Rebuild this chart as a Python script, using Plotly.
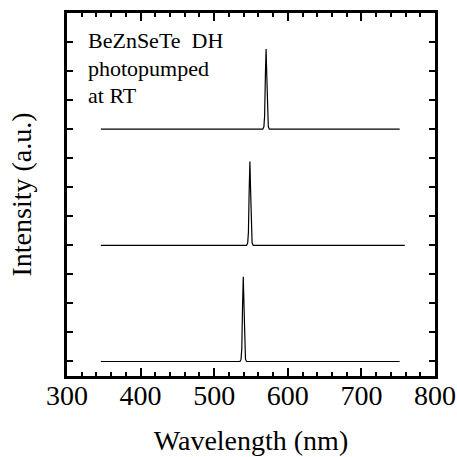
import plotly.graph_objects as go

# Spectra (wavelength nm, intensity a.u.), stacked with vertical offsets
wl_a = [346, 535, 536.5, 537.5, 538.5, 539.5, 540.5, 541.5, 542.5, 544, 752]
int_a = [0, 0, 0.08, 0.45, 1.9, 2.92, 1.9, 0.45, 0.08, 0, 0]

wl_b = [346, 544, 545.5, 546.5, 547.5, 548.5, 549.5, 550.5, 551.5, 553, 759]
int_b = [0, 0, 0.08, 0.45, 1.85, 2.89, 1.85, 0.45, 0.08, 0, 0]

wl_c = [346, 566, 567.5, 568.5, 569.5, 570.5, 571.5, 572.5, 573.5, 575, 752]
int_c = [0, 0, 0.08, 0.45, 1.8, 2.76, 1.8, 0.45, 0.08, 0, 0]

offsets = [0, 4, 8]

label_lines = ["BeZnSeTe&nbsp;&nbsp;DH", "photopumped", "at RT"]
label_y = [11.04, 10.08, 9.15]

x_ticks = [300, 400, 500, 600, 700, 800]

FONT = "Liberation Serif, Times New Roman, serif"

fig = go.Figure()
for wl, inten, off in zip([wl_a, wl_b, wl_c], [int_a, int_b, int_c], offsets):
    fig.add_trace(go.Scatter(
        x=wl, y=[v + off for v in inten], mode="lines",
        line=dict(color="black", width=1.2), showlegend=False,
        hoverinfo="skip",
    ))

for txt, yy in zip(label_lines, label_y):
    fig.add_annotation(x=325.8, y=yy, xref="x", yref="y", text=txt,
                       showarrow=False, xanchor="left", yanchor="middle",
                       font=dict(family=FONT, size=22, color="black"))

fig.update_xaxes(
    range=[300, 800], tickvals=x_ticks, ticktext=[str(t) for t in x_ticks],
    ticks="inside", ticklen=8, tickwidth=2, tickcolor="black",
    minor=dict(dtick=20, ticks="inside", ticklen=4, tickwidth=2, tickcolor="black"),
    showline=True, linewidth=3, linecolor="black", mirror="allticks",
    showgrid=False, zeroline=False, automargin=False,
    ticklabelstandoff=-8,
    tickfont=dict(family=FONT, size=28, color="black"),
    title=dict(text="Wavelength (nm)", font=dict(family=FONT, size=28, color="black"), standoff=21),
)
fig.update_yaxes(
    range=[-0.5, 12], tick0=0, dtick=1, showticklabels=False,
    ticks="inside", ticklen=6, tickwidth=2, tickcolor="black",
    showline=True, linewidth=3, linecolor="black", mirror="allticks",
    showgrid=False, zeroline=False, automargin=False,
    title=dict(text="Intensity (a.u.)", font=dict(family=FONT, size=28, color="black"), standoff=25),
)
fig.update_layout(
    width=457, height=457,
    margin=dict(l=67, r=22, t=13, b=81),
    plot_bgcolor="white", paper_bgcolor="white",
)
fig.write_html("out.html", config={"displayModeBar": False},
               post_script="document.body.style.margin='0';document.body.style.overflow='hidden';")
